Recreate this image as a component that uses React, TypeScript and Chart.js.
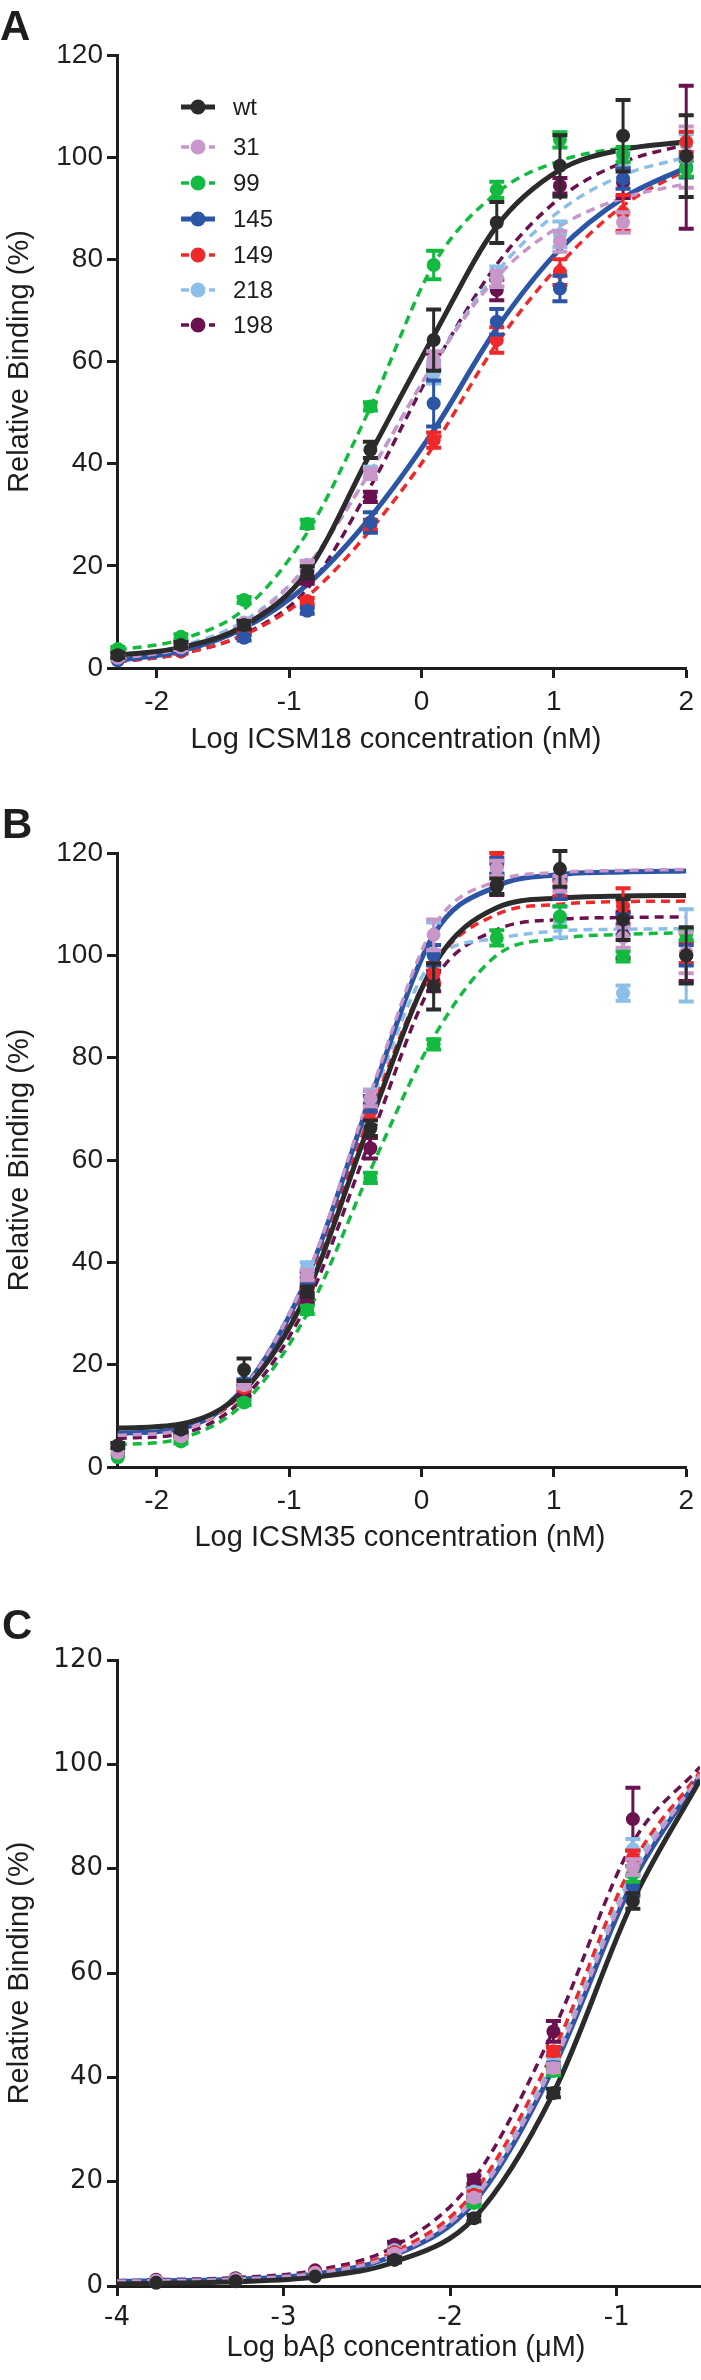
import React, { useEffect, useRef } from 'react';
import { Chart, registerables } from 'chart.js';

Chart.register(...registerables);

const FONT = '"Liberation Sans", Arial, Helvetica, sans-serif';
const FONT_C = '"DejaVu Sans", "Liberation Sans", Arial, sans-serif';

// ---- series ----
const SERIES = ['wt', '31', '99', '145', '149', '218', '198'];
const COLORS = ['#2b2b2b', '#c996c9', '#12bb40', '#2c55a5', '#f0282a', '#8cbfe7', '#6a1150'];
const SOLID = [true, false, false, true, false, false, false];

// ---- shared ticks ----
const Y_TICKS = [0, 20, 40, 60, 80, 100, 120];
const AB_X_TICKS = [-2, -1, 0, 1, 2];
const C_X_TICKS = [-4, -3, -2, -1];

// ---- Panel A (ICSM18) ----
const A_X = [-2.294, -1.817, -1.34, -0.863, -0.386, 0.092, 0.569, 1.046, 1.523, 2.0];
const A_FIT_WT = [2.5, 4.0, 8.3, 18.8, 42.0, 65.0, 86.5, 97.5, 101.5, 103.0];
const A_FIT_31 = [1.8, 3.8, 8.8, 20.0, 38.5, 59.5, 76.5, 86.5, 92.0, 94.8];
const A_FIT_99 = [3.5, 5.6, 11.5, 26.5, 51.0, 79.0, 93.0, 99.3, 101.8, 102.8];
const A_FIT_145 = [1.5, 3.3, 7.8, 16.3, 29.5, 46.5, 66.5, 82.0, 92.0, 98.0];
const A_FIT_149 = [1.2, 2.8, 6.5, 14.0, 27.0, 43.5, 63.5, 79.0, 90.5, 97.5];
const A_FIT_218 = [2.0, 4.3, 9.2, 20.0, 38.5, 59.5, 77.5, 89.5, 96.5, 100.0];
const A_FIT_198 = [1.2, 2.8, 6.6, 15.5, 35.5, 59.0, 79.0, 92.0, 99.0, 102.5];

const A_PT_WT = [2.5, 4.5, 8.4, 18.7, 42.7, 64.2, 87.2, 98.3, 104.2, 100.2];
const A_PT_31 = [2.0, 4.0, 8.8, 20.0, 38.0, 60.5, 76.2, 83.5, 87.2, 100.0];
const A_PT_99 = [3.7, 6.1, 13.3, 28.2, 51.2, 78.9, 93.6, 103.4, 100.5, 97.7];
const A_PT_145 = [1.5, 3.5, 5.9, 11.2, 28.5, 51.8, 67.8, 74.3, 95.8, 98.0];
const A_PT_149 = [1.6, 3.2, 7.0, 13.1, 28.0, 44.6, 64.2, 77.5, 89.1, 103.0];
const A_PT_218 = [2.4, 4.5, 8.9, 20.2, 38.4, 57.7, 76.6, 84.9, 99.5, 102.5];
const A_PT_198 = [1.8, 4.0, 8.0, 17.2, 33.5, 60.0, 74.0, 94.4, 95.0, 100.0];

const A_ERR_WT = [0.5, 0.6, 0.8, 1.2, 1.6, 6.0, 4.0, 6.0, 7.0, 8.0];
const A_ERR_31 = [0.4, 0.5, 0.6, 1.0, 1.0, 1.5, 1.5, 2.0, 2.0, 6.0];
const A_ERR_99 = [0.4, 0.5, 0.6, 0.8, 0.8, 2.8, 1.6, 1.5, 1.5, 1.5];
const A_ERR_145 = [0.3, 0.4, 0.5, 0.6, 2.0, 4.5, 2.5, 2.5, 2.0, 2.0];
const A_ERR_149 = [0.3, 0.4, 0.5, 0.6, 1.0, 1.5, 2.5, 2.5, 3.5, 2.0];
const A_ERR_218 = [0.3, 0.4, 0.5, 0.7, 1.0, 2.0, 2.0, 2.5, 1.5, 2.0];
const A_ERR_198 = [0.3, 0.4, 0.5, 0.7, 1.0, 1.5, 2.0, 1.5, 3.0, 14.0];

// ---- Panel B (ICSM35) ----
const B_X = [-2.294, -1.817, -1.34, -0.863, -0.386, 0.092, 0.569, 1.046, 1.523, 2.0];
const B_FIT_WT = [7.6, 8.4, 15.0, 34.0, 67.5, 98.0, 109.3, 111.2, 111.6, 111.7];
const B_FIT_31 = [6.2, 7.2, 15.5, 37.5, 73.0, 105.5, 114.5, 116.2, 116.6, 116.8];
const B_FIT_99 = [4.3, 5.6, 12.5, 30.0, 58.0, 84.0, 100.0, 103.3, 104.1, 104.4];
const B_FIT_145 = [6.6, 7.5, 15.5, 37.0, 72.0, 104.0, 113.5, 115.8, 116.3, 116.5];
const B_FIT_149 = [6.3, 7.3, 14.8, 35.0, 69.0, 98.0, 108.0, 110.0, 110.5, 110.6];
const B_FIT_218 = [6.3, 7.4, 15.8, 37.5, 71.0, 99.0, 103.3, 104.8, 105.1, 105.2];
const B_FIT_198 = [5.6, 6.5, 13.5, 32.0, 64.0, 95.0, 105.0, 107.0, 107.4, 107.5];

const B_PT_WT = [4.2, 7.3, 19.0, 34.3, 66.2, 93.9, 113.5, 116.9, 107.0, 100.0];
const B_PT_31 = [2.8, 6.0, 16.0, 37.5, 72.0, 104.0, 117.0, 114.0, 103.5, 100.5];
const B_PT_99 = [1.9, 5.0, 12.6, 30.7, 56.5, 82.6, 103.4, 107.6, 99.8, 104.0];
const B_PT_145 = [3.0, 6.5, 16.5, 37.0, 71.0, 100.0, 117.5, 113.0, 106.0, 100.0];
const B_PT_149 = [2.5, 6.3, 15.5, 36.0, 69.5, 96.5, 119.0, 113.0, 109.6, 100.5];
const B_PT_218 = [3.3, 6.8, 16.5, 39.0, 71.8, 100.4, 117.4, 106.5, 92.6, 100.0];
const B_PT_198 = [2.3, 6.6, 14.5, 33.0, 62.3, 95.0, 113.8, 113.5, 104.0, 100.0];

const B_ERR_WT = [0.5, 0.5, 2.2, 1.0, 1.5, 4.5, 1.5, 3.5, 4.0, 5.5];
const B_ERR_31 = [0.3, 0.4, 0.6, 1.0, 1.5, 3.0, 1.5, 1.5, 2.0, 4.0];
const B_ERR_99 = [0.3, 0.4, 0.5, 0.8, 1.0, 1.0, 1.5, 2.0, 1.0, 1.0];
const B_ERR_145 = [0.3, 0.4, 0.6, 1.0, 1.5, 2.0, 1.5, 2.0, 2.0, 2.0];
const B_ERR_149 = [0.3, 0.4, 0.6, 1.0, 1.5, 2.0, 1.0, 1.5, 3.5, 2.0];
const B_ERR_218 = [0.3, 0.4, 0.6, 1.0, 2.0, 6.0, 1.5, 3.0, 1.5, 9.0];
const B_ERR_198 = [0.3, 0.4, 0.6, 1.0, 2.0, 2.0, 2.0, 2.0, 4.5, 5.0];

// ---- Panel C (bAβ) ----
const C_X = [-3.765, -3.288, -2.811, -2.334, -1.857, -1.38, -0.903];
const C_FIT_X = [-4.0, -3.765, -3.288, -2.811, -2.334, -1.857, -1.38, -0.903, -0.5];
const C_FIT_WT = [0.4, 0.5, 0.8, 1.7, 4.6, 13.0, 37.0, 73.8, 97.0];
const C_FIT_31 = [0.9, 1.0, 1.3, 2.4, 6.1, 16.6, 42.5, 78.5, 98.0];
const C_FIT_99 = [0.9, 1.0, 1.3, 2.3, 5.9, 16.2, 42.0, 78.0, 98.0];
const C_FIT_145 = [0.9, 1.0, 1.3, 2.3, 5.9, 16.0, 41.8, 77.5, 97.8];
const C_FIT_149 = [0.9, 1.0, 1.4, 2.6, 6.6, 18.0, 45.0, 81.0, 98.5];
const C_FIT_218 = [0.9, 1.0, 1.4, 2.5, 6.3, 17.2, 43.5, 79.5, 98.3];
const C_FIT_198 = [1.0, 1.2, 1.6, 3.0, 7.6, 20.5, 49.0, 85.0, 99.5];

const C_PT_WT = [0.6, 0.9, 1.8, 5.0, 13.0, 37.0, 73.8];
const C_PT_31 = [1.0, 1.3, 2.5, 6.2, 16.9, 41.8, 80.3];
const C_PT_99 = [0.8, 1.2, 2.3, 6.0, 15.9, 41.2, 79.0];
const C_PT_145 = [0.8, 1.1, 2.2, 6.0, 16.5, 42.0, 76.7];
const C_PT_149 = [0.8, 1.2, 2.6, 6.5, 17.5, 45.0, 82.0];
const C_PT_218 = [0.9, 1.2, 2.4, 6.9, 18.1, 43.7, 83.7];
const C_PT_198 = [1.2, 1.5, 3.0, 7.9, 20.4, 48.8, 89.5];

const C_ERR_WT = [0.2, 0.2, 0.3, 0.5, 0.6, 0.8, 1.5];
const C_ERR_31 = [0.2, 0.2, 0.3, 0.5, 0.6, 0.8, 1.5];
const C_ERR_99 = [0.2, 0.2, 0.3, 0.5, 0.6, 0.8, 1.5];
const C_ERR_145 = [0.2, 0.2, 0.3, 0.5, 0.6, 0.8, 2.0];
const C_ERR_149 = [0.2, 0.2, 0.3, 0.5, 0.6, 0.8, 1.5];
const C_ERR_218 = [0.2, 0.2, 0.3, 0.5, 0.6, 1.0, 2.0];
const C_ERR_198 = [0.2, 0.2, 0.3, 0.6, 0.8, 2.0, 6.0];

// tables built from the arrays above (series order = SERIES)
const A_FITS = [A_FIT_WT, A_FIT_31, A_FIT_99, A_FIT_145, A_FIT_149, A_FIT_218, A_FIT_198];
const A_PTS = [A_PT_WT, A_PT_31, A_PT_99, A_PT_145, A_PT_149, A_PT_218, A_PT_198];
const A_ERRS = [A_ERR_WT, A_ERR_31, A_ERR_99, A_ERR_145, A_ERR_149, A_ERR_218, A_ERR_198];
const B_FITS = [B_FIT_WT, B_FIT_31, B_FIT_99, B_FIT_145, B_FIT_149, B_FIT_218, B_FIT_198];
const B_PTS = [B_PT_WT, B_PT_31, B_PT_99, B_PT_145, B_PT_149, B_PT_218, B_PT_198];
const B_ERRS = [B_ERR_WT, B_ERR_31, B_ERR_99, B_ERR_145, B_ERR_149, B_ERR_218, B_ERR_198];
const C_FITS = [C_FIT_WT, C_FIT_31, C_FIT_99, C_FIT_145, C_FIT_149, C_FIT_218, C_FIT_198];
const C_PTS = [C_PT_WT, C_PT_31, C_PT_99, C_PT_145, C_PT_149, C_PT_218, C_PT_198];
const C_ERRS = [C_ERR_WT, C_ERR_31, C_ERR_99, C_ERR_145, C_ERR_149, C_ERR_218, C_ERR_198];

// z-order of fitted curves (first = drawn on top)
const CURVE_ORDER = [0, 1, 3, 2, 4, 5, 6];

const AXIS_COLOR = '#1e1e1e';
const TEXT_COLOR = '#1e1e1e';

const errorBarPlugin = {
  id: 'errbars',
  beforeDatasetDraw(chart: any, args: any) {
    const ds: any = chart.data.datasets[args.index];
    if (!ds.errors) return;
    const ctx = chart.ctx;
    const yScale = chart.scales.y;
    ctx.save();
    ctx.strokeStyle = ds.pointBackgroundColor;
    args.meta.data.forEach((pt: any, i: number) => {
      const e = ds.errors[i];
      if (!e) return;
      const v = ds.data[i].y;
      const top = yScale.getPixelForValue(v + e);
      const bot = yScale.getPixelForValue(v - e);
      if (bot - top < 4) return;
      ctx.lineWidth = 3;
      ctx.beginPath();
      ctx.moveTo(pt.x, top);
      ctx.lineTo(pt.x, bot);
      ctx.stroke();
      ctx.lineWidth = 4;
      ctx.beginPath();
      ctx.moveTo(pt.x - 7.5, top);
      ctx.lineTo(pt.x + 7.5, top);
      ctx.moveTo(pt.x - 7.5, bot);
      ctx.lineTo(pt.x + 7.5, bot);
      ctx.stroke();
    });
    ctx.restore();
  },
};

const LEGEND_ROWS = [107, 147, 183, 219, 255, 290, 325];

const decorPlugin = {
  id: 'decor',
  afterDraw(chart: any, _args: any, o: any) {
    const ctx = chart.ctx;
    const area = chart.chartArea;
    ctx.save();
    ctx.fillStyle = TEXT_COLOR;
    ctx.font = `bold 42px ${FONT}`;
    ctx.textAlign = 'left';
    ctx.textBaseline = 'alphabetic';
    ctx.fillText(o.letter, o.letterX, o.letterY);

    ctx.font = `29px ${FONT}`;
    ctx.textAlign = 'center';
    ctx.textBaseline = 'middle';
    ctx.fillText(o.xTitle, o.xTitleX, o.xTitleY);

    ctx.save();
    ctx.translate(o.yTitleX, (area.top + area.bottom) / 2);
    ctx.rotate(-Math.PI / 2);
    ctx.fillText(o.yTitle, 0, 0);
    ctx.restore();

    if (o.legend) {
      SERIES.forEach((name, i) => {
        const y = LEGEND_ROWS[i];
        ctx.strokeStyle = COLORS[i];
        ctx.fillStyle = COLORS[i];
        ctx.lineWidth = SOLID[i] ? 5 : 3.5;
        ctx.setLineDash(SOLID[i] ? [] : [8, 6]);
        ctx.beginPath();
        ctx.moveTo(181, y);
        ctx.lineTo(215, y);
        ctx.stroke();
        ctx.setLineDash([]);
        ctx.beginPath();
        ctx.arc(198, y, 7.5, 0, Math.PI * 2);
        ctx.fill();
        ctx.fillStyle = TEXT_COLOR;
        ctx.font = `24px ${FONT}`;
        ctx.textAlign = 'left';
        ctx.textBaseline = 'middle';
        ctx.fillText(name, 233, y + 1);
      });
    }
    ctx.restore();
  },
};

type PanelProps = {
  height: number;
  chartTop: number;
  chartBottom: number;
  rightPad: number;
  xMin: number;
  xMax: number;
  xTicks: number[];
  pointsX: number[];
  fitX: number[];
  fits: number[][];
  pts: number[][];
  errs: number[][];
  letter: string;
  letterX: number;
  letterY: number;
  xTitle: string;
  xTitleX: number;
  xTitleY: number;
  tickFont: string;
  tickSize: number;
  legend: boolean;
};

function Panel(p: PanelProps) {
  const ref = useRef<HTMLCanvasElement | null>(null);
  useEffect(() => {
    if (!ref.current) return;
    const datasets: any[] = [];
    SERIES.forEach((name, i) => {
      datasets.push({
        label: name + ' mean',
        data: p.pointsX.map((x, j) => ({ x, y: p.pts[i][j] })),
        errors: p.errs[i],
        showLine: false,
        pointRadius: 7,
        pointHoverRadius: 7,
        pointBackgroundColor: COLORS[i],
        pointBorderColor: COLORS[i],
        pointBorderWidth: 0,
        borderColor: COLORS[i],
        backgroundColor: COLORS[i],
        clip: false,
      });
    });
    CURVE_ORDER.forEach((i) => {
      datasets.push({
        label: SERIES[i] + ' fit',
        data: p.fitX.map((x, j) => ({ x, y: p.fits[i][j] })),
        borderColor: COLORS[i],
        borderWidth: SOLID[i] ? 5 : 3.5,
        borderDash: SOLID[i] ? [] : [9, 6],
        pointRadius: 0,
        pointHoverRadius: 0,
        cubicInterpolationMode: 'monotone',
        fill: false,
      });
    });

    const tickCommon = {
      color: TEXT_COLOR,
      font: { family: p.tickFont, size: p.tickSize },
      autoSkip: false,
      maxRotation: 0,
      minRotation: 0,
    };
    const gridCommon = {
      display: true,
      drawOnChartArea: false,
      drawTicks: true,
      tickLength: 10,
      tickWidth: 3,
      tickColor: AXIS_COLOR,
    };
    const borderCommon = { display: true, width: 3, color: AXIS_COLOR };

    const chart = new Chart(ref.current, {
      type: 'line',
      data: { datasets },
      options: {
        animation: false,
        responsive: false,
        maintainAspectRatio: false,
        devicePixelRatio: 1,
        events: [],
        layout: {
          autoPadding: false,
          padding: { top: p.chartTop, left: 0, right: p.rightPad, bottom: 0 },
        },
        plugins: {
          legend: { display: false },
          tooltip: { enabled: false },
          decor: {
            letter: p.letter,
            letterX: p.letterX,
            letterY: p.letterY,
            xTitle: p.xTitle,
            xTitleX: p.xTitleX,
            xTitleY: p.xTitleY,
            yTitle: 'Relative Binding (%)',
            yTitleX: 20,
            legend: p.legend,
          },
        },
        scales: {
          x: {
            type: 'linear',
            position: 'bottom',
            min: p.xMin,
            max: p.xMax,
            afterBuildTicks: (s: any) => {
              s.ticks = p.xTicks.map((v) => ({ value: v }));
            },
            afterFit: (s: any) => {
              s.height = p.height - p.chartBottom;
            },
            grid: gridCommon,
            border: borderCommon,
            ticks: { ...tickCommon, padding: 7 },
          },
          y: {
            type: 'linear',
            position: 'left',
            min: 0,
            max: 120,
            afterBuildTicks: (s: any) => {
              s.ticks = Y_TICKS.map((v) => ({ value: v }));
            },
            afterFit: (s: any) => {
              s.width = 117;
            },
            grid: gridCommon,
            border: borderCommon,
            ticks: { ...tickCommon, padding: 4 },
          },
        },
      } as any,
      plugins: [errorBarPlugin as any, decorPlugin as any],
    });
    return () => chart.destroy();
  }, []);
  return (
    <canvas
      ref={ref}
      width={701}
      height={p.height}
      style={{ display: 'block', width: 701, height: p.height }}
    />
  );
}

export default function App() {
  useEffect(() => {
    document.body.style.margin = '0';
  }, []);
  return (
    <div style={{ width: 701, height: 2380, background: '#ffffff' }}>
      <Panel
        height={798}
        chartTop={55}
        chartBottom={668}
        rightPad={10}
        xMin={-2.3}
        xMax={2}
        xTicks={AB_X_TICKS}
        pointsX={A_X}
        fitX={A_X}
        fits={A_FITS}
        pts={A_PTS}
        errs={A_ERRS}
        letter="A"
        letterX={0}
        letterY={40}
        xTitle="Log ICSM18 concentration (nM)"
        xTitleX={396}
        xTitleY={740}
        tickFont={FONT}
        tickSize={28}
        legend={true}
      />
      <Panel
        height={798}
        chartTop={55}
        chartBottom={669}
        rightPad={10}
        xMin={-2.3}
        xMax={2}
        xTicks={AB_X_TICKS}
        pointsX={B_X}
        fitX={B_X}
        fits={B_FITS}
        pts={B_PTS}
        errs={B_ERRS}
        letter="B"
        letterX={2}
        letterY={40}
        xTitle="Log ICSM35 concentration (nM)"
        xTitleX={400}
        xTitleY={740}
        tickFont={FONT}
        tickSize={28}
        legend={false}
      />
      <Panel
        height={784}
        chartTop={64}
        chartBottom={690}
        rightPad={1}
        xMin={-4}
        xMax={-0.5}
        xTicks={C_X_TICKS}
        pointsX={C_X}
        fitX={C_FIT_X}
        fits={C_FITS}
        pts={C_PTS}
        errs={C_ERRS}
        letter="C"
        letterX={2}
        letterY={43}
        xTitle="Log bAβ concentration (μM)"
        xTitleX={406}
        xTitleY={752}
        tickFont={FONT_C}
        tickSize={26}
        legend={false}
      />
    </div>
  );
}
